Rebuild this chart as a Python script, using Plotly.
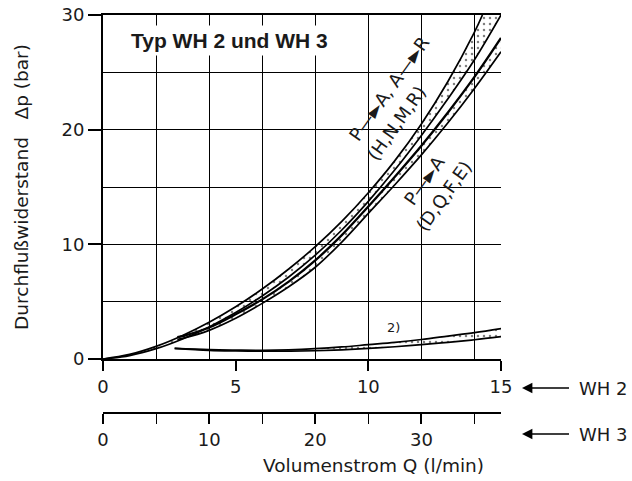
import plotly.graph_objects as go

# ---------------- data ----------------
# WH 2 flow scale (l/min) and pressure drop (bar)
# Group P->A, A->R (H,N,M,R): stippled band between two curves
q_hnmr_upper = [0, 1, 2, 3, 4, 5, 6, 7, 8, 9, 10, 11, 12, 13, 14, 14.3]
p_hnmr_upper = [0, 0.4, 1.1, 2.05, 3.2, 4.55, 6.1, 7.85, 9.8, 12.0, 14.5, 17.3, 20.5, 24.2, 28.5, 30.0]
q_hnmr_lower = [0, 1, 2, 3, 4, 5, 6, 7, 8, 9, 10, 11, 12, 13, 14, 15]
p_hnmr_lower = [0, 0.3, 0.9, 1.75, 2.8, 4.05, 5.5, 7.15, 9.05, 11.25, 13.75, 16.5, 19.5, 22.7, 26.1, 30.0]

# Group P->A (D,Q,F,E): stippled band between two curves
q_dqfe_upper = [2.8, 3, 4, 5, 6, 7, 8, 9, 10, 11, 12, 13, 14, 15]
p_dqfe_upper = [1.9, 2.0, 2.75, 3.9, 5.2, 6.75, 8.6, 10.8, 13.3, 15.9, 18.6, 21.5, 24.6, 28.0]
q_dqfe_lower = [2.8, 3, 4, 5, 6, 7, 8, 9, 10, 11, 12, 13, 14, 15]
p_dqfe_lower = [1.7, 1.8, 2.5, 3.55, 4.85, 6.3, 8.0, 10.2, 12.7, 15.2, 17.8, 20.6, 23.6, 26.8]

# Curve pair marked 2)
q_note2_upper = [2.7, 4, 5, 6, 7, 8, 9, 10, 11, 12, 13, 14, 15]
p_note2_upper = [0.93, 0.82, 0.78, 0.76, 0.8, 0.9, 1.05, 1.25, 1.45, 1.7, 2.0, 2.3, 2.65]
q_note2_lower = [2.7, 4, 5, 6, 7, 8, 9, 10, 11, 12, 13, 14, 15]
p_note2_lower = [0.93, 0.75, 0.7, 0.68, 0.68, 0.72, 0.8, 0.92, 1.07, 1.25, 1.45, 1.68, 1.95]

# axes
wh2_ticks = [0, 5, 10, 15]
wh2_grid = [2, 4, 6, 8, 10, 12, 14]
wh3_ticks = [0, 10, 20, 30]
wh3_minor = [5, 15, 25, 35]
wh2_max = 15
wh3_max = 37.5
p_ticks = [0, 10, 20, 30]
p_grid = [5, 15, 25]
p_max = 30

# ---------------- figure ----------------
W, H = 632, 481
FONT = "DejaVu Sans"
INK = "#1a1a1a"
TICK_SIZE = 18
TITLE_SIZE = 18.5

def px_x(v):
    return v / W

def px_y(v):
    return 1 - v / H

fig = go.Figure()

pattern = dict(shape=".", fgcolor="black", bgcolor="rgba(0,0,0,0)", size=6, solidity=0.13)

def line(q, p, width=1.7, fill=None):
    kw = dict(x=q, y=p, mode="lines", showlegend=False, hoverinfo="skip",
              line=dict(color="black", width=width, shape="spline", smoothing=1.0))
    if fill:
        kw.update(fill="tonexty", fillpattern=pattern, fillcolor="rgba(0,0,0,0)")
    fig.add_trace(go.Scatter(**kw))

line(q_hnmr_lower, p_hnmr_lower)
line(q_hnmr_upper, p_hnmr_upper, fill=True)
line(q_dqfe_lower, p_dqfe_lower)
line(q_dqfe_upper, p_dqfe_upper, width=2.3, fill=True)
line(q_note2_lower, p_note2_lower)
line(q_note2_upper, p_note2_upper, fill=True)
# carrier trace so the WH 3 scale axis is drawn
fig.add_trace(go.Scatter(x=[None], y=[None], xaxis="x2", yaxis="y",
                         mode="lines", showlegend=False, hoverinfo="skip"))

x0, x1 = 103, 501
ytop, ybot = 15, 359

fig.update_layout(
    width=W, height=H,
    margin=dict(l=0, r=0, t=0, b=0, autoexpand=False),
    paper_bgcolor="white", plot_bgcolor="white",
    font=dict(family=FONT, size=TICK_SIZE, color=INK),
    xaxis=dict(
        domain=[px_x(x0), px_x(x1)], range=[0, wh2_max], automargin=False,
        tickmode="array", tickvals=wh2_ticks, ticktext=[str(v) for v in wh2_ticks],
        ticks="outside", ticklen=10, tickwidth=1.5, tickcolor="black",
        ticklabeloverflow="allow",
        showline=True, linecolor="black", linewidth=2, mirror=True,
        showgrid=False, zeroline=False,
        minor=dict(tickmode="array", tickvals=wh2_grid, showgrid=True,
                   gridcolor="black", gridwidth=1.2, ticks=""),
        anchor="y",
    ),
    xaxis2=dict(
        overlaying="x", anchor="free", position=px_y(413), automargin=False,
        range=[0, wh3_max],
        tickmode="array", tickvals=wh3_ticks, ticktext=[str(v) for v in wh3_ticks],
        ticks="outside", ticklen=10, tickwidth=1.5, tickcolor="black",
        ticklabeloverflow="allow",
        showline=True, linecolor="black", linewidth=2,
        showgrid=False, zeroline=False,
        minor=dict(tickmode="array", tickvals=wh3_minor, ticks="outside",
                   ticklen=10, tickwidth=1.2, tickcolor="black", showgrid=False),
    ),
    yaxis=dict(
        domain=[px_y(ybot), px_y(ytop)], range=[0, p_max], automargin=False,
        tickmode="array", tickvals=p_ticks, ticktext=[str(v) for v in p_ticks],
        ticks="outside", ticklen=13, tickwidth=1.5, tickcolor="black",
        ticklabeloverflow="allow",
        showline=True, linecolor="black", linewidth=2,
        showgrid=True, gridcolor="black", gridwidth=1.2, zeroline=False,
        minor=dict(tickmode="array", tickvals=p_grid, showgrid=True,
                   gridcolor="black", gridwidth=1.2, ticks=""),
        title=dict(text="Durchflußwiderstand\u00a0\u00a0 Δp (bar)", standoff=28,
                   font=dict(family=FONT, size=TITLE_SIZE, color=INK)),
        anchor="x",
    ),
)

ann = []
ann.append(dict(text="<b>Typ WH 2 und WH 3</b>", xref="paper", yref="paper",
                x=px_x(229), y=px_y(40), xanchor="center", yanchor="middle",
                showarrow=False, bgcolor="white", borderpad=3,
                font=dict(family="Liberation Sans", size=21, color=INK)))
ann.append(dict(text="Volumenstrom Q (l/min)", xref="paper", yref="paper",
                x=px_x(373), y=px_y(465), xanchor="center", yanchor="middle",
                showarrow=False, font=dict(family=FONT, size=TITLE_SIZE, color=INK)))
for label, yc in (("WH 2", 388), ("WH 3", 434)):
    ann.append(dict(text=label, xref="paper", yref="paper",
                    x=px_x(522), y=px_y(yc), ax=81, ay=0,
                    showarrow=True, arrowhead=2, arrowsize=1.3, arrowwidth=1.6,
                    arrowcolor="black", startstandoff=8,
                    font=dict(family=FONT, size=TICK_SIZE, color=INK)))
rot = -54.4
for text, cx, cy in (("P—►A, A—►R", 389, 88), ("(H,N,M,R)", 396, 123),
                     ("P—►A", 424, 180), ("(D,Q,F,E)", 443, 196)):
    ann.append(dict(text=text, xref="paper", yref="paper", x=px_x(cx), y=px_y(cy),
                    xanchor="center", yanchor="middle", textangle=rot,
                    showarrow=False, font=dict(family=FONT, size=18, color=INK)))
ann.append(dict(text="2)", xref="paper", yref="paper", x=px_x(393), y=px_y(327),
                xanchor="center", yanchor="middle", showarrow=False,
                font=dict(family=FONT, size=13, color=INK)))
fig.update_layout(annotations=ann)

# remove the browser's default page margin so the figure fills the window exactly
fig.write_html("out.html", config={"displayModeBar": False},
               post_script="document.body.style.margin='0px';")
